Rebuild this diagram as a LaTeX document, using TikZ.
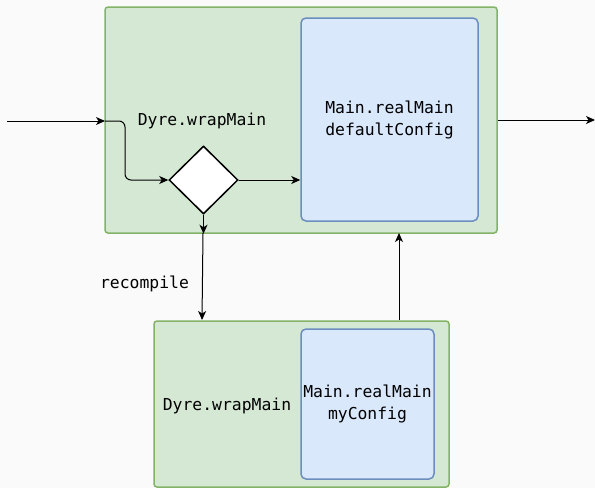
\documentclass[tikz,border=0pt]{standalone}
\usepackage{fontspec}
\setmonofont{DejaVu Sans Mono}
\usetikzlibrary{shapes.geometric,arrows.meta}
\definecolor{bgc}{HTML}{FAFAFA}
\definecolor{grfill}{HTML}{D5E8D4}
\definecolor{grline}{HTML}{82B366}
\definecolor{blfill}{HTML}{DAE8FC}
\definecolor{blline}{HTML}{6C8EBF}
\tikzset{
  outer/.style={draw=grline, fill=grfill, line width=1.5pt, rounded corners=3pt, inner sep=0pt},
  inner/.style={draw=blline, fill=blfill, line width=1.5pt, rounded corners=5pt, inner sep=0pt,
    align=center, font=\ttfamily\fontsize{16.4}{22}\selectfont},
  lbl/.style={font=\ttfamily\fontsize{16.4}{22}\selectfont, inner sep=0pt},
  choice/.style={diamond, draw=black, fill=white, line width=1.5pt, inner sep=0pt},
  arr/.style={draw=black, line width=1pt, -{Stealth[length=9pt,width=8pt,inset=2.5pt]}},
}
\begin{document}
\begin{tikzpicture}[x=1pt,y=-1pt]
  \fill[bgc] (0,0) rectangle (595,488);
  \useasboundingbox (0,0) rectangle (595,488);

  % upper wrapper
  \node[outer, minimum width=392pt, minimum height=226pt] (top) at (301,120) {};
  \node[inner, minimum width=177pt, minimum height=203pt] (topmain) at (389.5,119.5)
    {Main.realMain\\defaultConfig};
  \node[lbl] (toplbl) at (202,121) {Dyre.wrapMain};
  \node[choice, minimum width=69pt, minimum height=68pt] (d) at (203.5,180) {};

  % lower wrapper
  \node[outer, minimum width=295pt, minimum height=166pt] (bot) at (301.5,404) {};
  \node[inner, minimum width=133pt, minimum height=150pt] (botmain) at (367.5,404)
    {Main.realMain\\myConfig};
  \node[lbl] (botlbl) at (227,406) {Dyre.wrapMain};

  \node[lbl] (rc) at (144.5,284) {recompile};

  % connector end points
  \coordinate (src) at (7,121);
  \coordinate (entry) at (105,121);
  \coordinate (bend) at (125,121);
  \coordinate (sink) at (595,120);
  \coordinate (downA) at (203,233);
  \coordinate (downB) at (202,320);
  \coordinate (upA) at (399,320);
  \coordinate (upB) at (399,233);

  \draw[arr] (src) -- (entry);
  \draw[arr, rounded corners=6pt] (entry) -- (bend) -- (bend |- d.west) -- (d.west);
  \draw[arr] (d.east) -- (topmain.west |- d.east);
  \draw[arr] (d.south) -- (d.south |- top.south);
  \draw[arr] (downA) -- (downB);
  \draw[arr] (upA) -- (upB);
  \draw[arr] (top.east |- sink) -- (sink);
\end{tikzpicture}
\end{document}
